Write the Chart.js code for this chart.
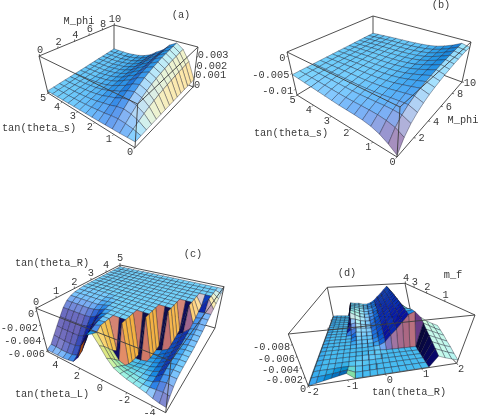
<!DOCTYPE html>
<html>
<head>
<meta charset="utf-8">
<script src="https://cdn.jsdelivr.net/npm/chart.js@4"></script>
<style>
body { margin: 0; background: #fff; }
#wrap { position: relative; width: 480px; height: 415px; overflow: hidden; }
canvas { position: absolute; }
</style>
</head>
<body>
<div id="wrap">
<canvas id="pa" width="240" height="208" style="left:0;top:0"></canvas>
<canvas id="pb" width="240" height="208" style="left:240px;top:0"></canvas>
<canvas id="pc" width="240" height="207" style="left:0;top:208px"></canvas>
<canvas id="pd" width="240" height="207" style="left:240px;top:208px"></canvas>
</div>
<script>
var n = null;

// panel a: rows tan(theta_s) 0..5, columns M_phi 0..10, in 1e-5
var zGridA = [
[60,63,66,69,71,73,74,75,76,77,78,79,79,80,80],
[55,83,110,135,155,172,186,197,207,214,222,227,231,236,240],
[50,94,137,175,207,233,256,273,288,299,311,320,326,334,340],
[48,99,149,193,230,260,287,307,324,338,351,361,368,378,385],
[45,90,135,174,207,234,258,276,291,303,315,324,330,339,345],
[42,76,110,140,165,186,204,218,229,238,247,254,259,265,270],
[40,67,94,117,137,153,168,179,188,195,202,207,211,216,220],
[38,56,75,90,104,115,125,132,138,143,148,151,154,158,160],
[36,49,61,72,81,89,96,101,105,108,112,114,116,118,120],
[34,42,51,58,64,69,74,77,80,82,84,86,87,89,90],
[32,38,43,48,53,56,59,61,63,65,66,67,68,69,70],
[30,33,36,39,41,43,44,45,46,47,48,49,49,50,50],
[28,30,32,33,34,36,37,37,38,38,39,39,39,40,40],
[26,27,27,28,28,29,29,29,29,29,30,30,30,30,30],
[25,24,24,23,22,22,21,21,21,21,21,20,20,20,20]
];

// panel b: rows tan(theta_s) 0..5, columns M_phi 0..10, in 1e-5
var zGridB = [
[-1150,-839,-639,-506,-406,-329,-273,-229,-184,-151,-118,-95,-73,-57,-60],
[-980,-708,-534,-417,-330,-262,-214,-175,-136,-107,-78,-59,-39,-25,-5],
[-850,-648,-519,-432,-368,-317,-281,-252,-224,-202,-180,-166,-152,-141,-130],
[-770,-619,-522,-457,-408,-370,-343,-322,-300,-284,-268,-257,-246,-238,-230],
[-730,-612,-537,-486,-449,-419,-398,-381,-365,-352,-339,-331,-323,-316,-310],
[-710,-612,-549,-507,-476,-451,-434,-420,-406,-395,-385,-378,-371,-365,-360],
[-700,-615,-560,-523,-496,-474,-459,-447,-435,-426,-416,-410,-404,-400,-395],
[-690,-614,-566,-533,-509,-490,-477,-466,-455,-447,-439,-434,-428,-424,-420],
[-670,-606,-564,-537,-516,-500,-488,-479,-470,-463,-456,-452,-447,-443,-440],
[-650,-595,-560,-537,-519,-506,-496,-488,-480,-475,-469,-465,-461,-458,-455],
[-630,-585,-556,-537,-523,-512,-504,-497,-491,-486,-481,-478,-475,-472,-470],
[-610,-576,-555,-540,-530,-521,-515,-510,-506,-502,-498,-496,-494,-492,-490],
[-590,-568,-553,-544,-536,-531,-527,-524,-520,-518,-516,-514,-512,-511,-510],
[-570,-559,-552,-547,-543,-540,-538,-537,-535,-534,-533,-532,-531,-531,-530],
[-550,-550,-550,-550,-550,-550,-550,-550,-550,-550,-550,-550,-550,-550,-550]
];

// panel c: rows tan(theta_L) 5..-5, columns tan(theta_R) 0..5, in 1e-4
var zGridC = [
[-59,-55,-45,-35,-25,-15,-8,-4,-2,-1,0,0,0,0,0,0,0,0,0,0,0],
[-59,-55,-46,-36,-25,-15,-8,-4,-2,-1,0,0,0,0,0,0,0,0,0,0,0],
[-59,-56,-47,-36,-25,-15,-8,-4,-2,-1,0,0,0,0,0,0,0,0,0,0,0],
[-59,-56,-47,-36,-25,-15,-8,-4,-2,-1,0,0,0,0,0,0,0,0,0,0,0],
[-58,-55,-46,-36,-25,-15,-8,-4,-2,-1,0,0,0,0,0,0,0,0,0,0,0],
[-56,-52,-43,-33,-23,-14,-7,-4,-2,-1,0,0,0,0,0,0,0,0,0,0,0],
[-46,-42,-34,-25,-17,-10,-5,-2,-1,0,0,0,0,0,0,0,0,0,0,0,0],
[-24,-20,-14,-9,-5,-3,-1,0,0,0,0,0,0,0,0,0,0,0,0,0,0],
[-7,-6,-3,-1,0,0,0,0,0,0,0,0,0,0,0,0,0,0,0,0,0],
[-2,-5,0,0,0,0,0,0,0,0,0,0,0,0,0,0,0,0,0,0,0],
[-14,-20,-28,-36,-42,0,0,0,0,0,0,0,0,0,0,0,0,0,0,0,0],
[-27,-33,-40,-47,0,0,0,0,0,0,0,0,0,0,0,0,0,0,0,0,0],
[-36,-40,-45,-50,-54,-56,-57,-57,0,0,0,0,0,0,0,0,0,0,0,0,0],
[-40,-43,-47,-50,-53,-55,-56,0,0,0,0,0,0,0,0,0,0,0,0,0,0],
[-43,-45,-48,-50,-52,-53,-54,-55,-55,-54,-53,0,0,0,0,0,0,0,0,0,0],
[-45,-47,-49,-50,-51,-52,-52,-52,-52,-51,0,0,0,0,0,0,0,0,0,0,0],
[-47,-48,-49,-49,-49,-49,-49,-48,-47,-46,-45,-43,-41,-39,0,0,0,0,0,0,0],
[-49,-48,-47,-46,-45,-44,-43,-42,-41,-40,-38,-36,-34,0,0,0,0,0,0,0,0],
[-52,-47,-42,-39,-37,-36,-35,-34,-33,-32,-30,-28,-26,-23,-20,-16,-12,0,0,0,0],
[-54,-46,-40,-37,-35,-34,-33,-32,-31,-30,-28,-26,-24,-21,-18,-15,0,0,0,0,0],
[-55,-47,-41,-37,-35,-34,-33,-32,-31,-30,-28,-26,-24,-21,-18,-15,-12,-9,-6,-3,0]
];

// panel d: rows tan(theta_R) -2..2, columns m_f 0..4, depth below zero in 1e-4
var zGridD = [
[0,2,2,2,2,2,2,2,2,2,2,2,2,2,2,2,2,2,2,2,2],
[3,3,3,3,3,3,3,3,3,3,3,3,3,3,3,3,3,3,3,3,3],
[6,4,3,3,3,3,3,3,3,3,3,3,3,3,3,3,3,3,3,3,3],
[9,5,3,3,3,3,3,3,3,3,3,3,3,3,3,3,3,3,3,3,3],
[12,7,4,3,3,3,3,3,3,3,3,3,3,3,3,3,3,3,3,3,3],
[15,9,4,3,3,3,3,3,3,3,5,13,23,32,44,46,46,46,46,46,46],
[1,1,2,3,3,3,3,4,6,9,13,18,25,30,37,41,43,44,44,44,44],
[1,1,1,2,3,3,3,4,6,8,12,16,21,25,31,35,38,41,42,43,44],
[1,1,1,1,3,3,3,4,6,8,11,15,19,23,28,32,35,38,39,40,41],
[1,1,1,1,2,3,4,4,6,8,11,15,19,23,28,32,35,38,39,40,41],
[1,1,1,1,1,2,5,8,11,14,18,22,25,29,32,35,38,41,42,44,45],
[1,1,1,1,1,1,12,16,19,24,27,31,34,36,39,42,44,46,48,50,52],
[1,1,1,1,1,1,27,31,34,38,40,43,46,48,50,53,55,57,59,60,62],
[1,1,1,1,1,1,40,44,46,50,52,55,58,60,62,64,66,67,69,70,71],
[1,1,1,1,1,1,55,58,60,63,65,68,70,71,73,75,76,77,79,80,81],
[1,1,1,1,1,1,70,72,74,76,77,79,81,82,84,85,86,87,88,89,90],
[1,1,1,1,1,1,75,74,72,68,65,60,55,52,50,49,48,48,47,46,45],
[24,30,36,42,48,55,62,n,n,n,n,n,n,n,n,n,n,n,n,n,n],
[18,24,30,36,42,48,53,n,n,n,n,n,n,n,n,n,n,n,n,n,n],
[13,18,24,30,36,41,46,n,n,n,n,n,n,n,n,n,n,n,n,n,n],
[8,13,19,24,30,35,40,n,n,n,n,n,n,n,n,n,n,n,n,n,n]
];

var tanTicks = [0, 1, 2, 3, 4, 5];
var mPhiTicksA = [0, 2, 4, 6, 8, 10];
var mPhiTicksB = [2, 4, 6, 8, 10];
var zTicksA = [0, 0.001, 0.002, 0.003];
var zTicksB = [0, -0.005, -0.01];
var zTicksC = [0, -0.002, -0.004, -0.006];
var zTicksD = [0, -0.002, -0.004, -0.006, -0.008];
var tanLTicks = [4, 2, 0, -2, -4];
var tanRTicksD = [-2, -1, 0, 1, 2];
var mfTicks = [4, 3, 2, 1];

// box corners on the page, order: a + 2*b + 4*c (a = row axis, b = column axis, c = height)
var panels = [
  { id: 'pa', ox: 0, oy: 0, h: 208, grid: zGridA, unit: 1e-5, zBot: 0, zTop: 0.004, dist: 2.2, relief: 0.3, lift: 0.12,
    corners: [[135,147.7],[48,93],[193,87],[114,50],[137.7,104],[39,56],[198,47],[114,25]],
    axes: [
      { ticks: tanTicks, pos: function (v) { return [v / 5, 0, 0]; }, dx: -5, dy: 5, align: 'center' },
      { ticks: mPhiTicksA, pos: function (v) { return [1, v / 10, 1]; }, dx: 1, dy: -6, align: 'center' },
      { ticks: zTicksA, pos: function (v) { return [0, 1, v / 0.004]; }, dx: 1, dy: -2, align: 'left' }
    ],
    titles: [['M_phi', 79, 21], ['tan(theta_s)', 39, 128], ['(a)', 181, 15]] },
  { id: 'pb', ox: 240, oy: 0, h: 208, grid: zGridB, unit: 1e-5, zBot: -0.012, zTop: 0.001, dist: 2.2, relief: 0.4, lift: 0.1,
    corners: [[397,157],[297,95],[462,82],[373,49],[400,107],[287,52],[471,42],[373,16]],
    axes: [
      { ticks: tanTicks, pos: function (v) { return [v / 5, 0, 0]; }, dx: -4.5, dy: 5, align: 'center' },
      { ticks: mPhiTicksB, pos: function (v) { return [0, v / 10, 0]; }, dx: 8, dy: 1, align: 'center' },
      { ticks: zTicksB, pos: function (v) { return [1, 0, (v + 0.012) / 0.013]; }, dx: -2.5, dy: 2.5, align: 'right' }
    ],
    titles: [['M_phi', 463, 120], ['tan(theta_s)', 291, 133], ['(b)', 441, 5]] },
  { id: 'pc', ox: 0, oy: 208, h: 207, grid: zGridC, unit: 1e-4, zBot: -0.0062, zTop: 0.0003, dist: 3, relief: 0.4, lift: 0.06,
    corners: [[47.7,351.7],[165.7,412.7],[120,300],[215,328],[36,308.3],[171,361],[120,265],[224,286.7]],
    axes: [
      { ticks: tanLTicks, pos: function (v) { return [(5 - v) / 10, 0, 0]; }, dx: -2.7, dy: 8, align: 'center' },
      { ticks: tanTicks, pos: function (v) { return [0, v / 5, 1]; }, dx: 0, dy: -6.5, align: 'center' },
      { ticks: zTicksC, pos: function (v) { return [0, 0, (v + 0.0062) / 0.0065]; }, dx: -2.5, dy: 3.5, align: 'right' }
    ],
    titles: [['tan(theta_R)', 52, 263.5], ['tan(theta_L)', 52, 394], ['(c)', 193, 254]] },
  { id: 'pd', ox: 240, oy: 208, h: 207, grid: zGridD, unit: 1e-4, zBot: 0, zTop: 0.0095, dist: 1.2, relief: 0.4, lift: 0.03,
    corners: [[308.3,386],[456.7,363.3],[333.3,316.7],[411.7,316.7],[288.3,334],[475,315],[327.3,287.3],[405,283.3]],
    axes: [
      { ticks: tanRTicksD, pos: function (v) { return [(v + 2) / 4, 0, 0]; }, dx: 4.5, dy: 6, align: 'center' },
      { ticks: mfTicks, pos: function (v) { return [1, v / 4, 1]; }, dx: 1, dy: -5.5, align: 'center' },
      { ticks: zTicksD, pos: function (v) { return [0, 0, -v / 0.0095]; }, dx: -2, dy: 3, align: 'right' }
    ],
    titles: [['m_f', 453, 275], ['tan(theta_R)', 409, 392.7], ['(d)', 347, 273]] }
];

function dot(a, b) { return a[0] * b[0] + a[1] * b[1] + a[2] * b[2]; }
function cross(a, b) { return [a[1] * b[2] - a[2] * b[1], a[2] * b[0] - a[0] * b[2], a[0] * b[1] - a[1] * b[0]]; }
function unit(a) { var l = Math.sqrt(dot(a, a)) || 1; return [a[0] / l, a[1] / l, a[2] / l]; }
function world(a, b, c, relief) { return [a - 0.5, b - 0.5, (c - 0.5) * (relief || 0.4)]; }

// camera axes are read back from how the box edges lie on the page
function setupView(p) {
  var e = [[0, 0], [0, 0], [0, 0]], k, s;
  for (k = 0; k < 8; k++) {
    for (s = 0; s < 3; s++) {
      if (!(k & (1 << s))) {
        e[s][0] += p.corners[k | (1 << s)][0] - p.corners[k][0];
        e[s][1] += p.corners[k | (1 << s)][1] - p.corners[k][1];
      }
    }
  }
  var right = unit([e[0][0], e[1][0], e[2][0] / 0.4]);
  var up = unit([-e[0][1], -e[1][1], -e[2][1] / 0.4]);
  var f = unit(cross(right, up));
  if (f[2] < 0) f = [-f[0], -f[1], -f[2]];
  var up2 = unit(cross(f, right));
  if (dot(up2, up) < 0) up2 = [-up2[0], -up2[1], -up2[2]];
  p.right = right; p.up = up2; p.front = f;
  // depth at each corner, so that far parts of the box foreshorten
  p.weights = [];
  for (k = 0; k < 8; k++) {
    p.weights.push(p.dist - dot(f, world(k & 1, (k >> 1) & 1, (k >> 2) & 1)));
  }
}

function project(p, a, b, c) {
  var x = 0, y = 0, t = 0, k;
  for (k = 0; k < 8; k++) {
    var m = (k & 1 ? a : 1 - a) * (k & 2 ? b : 1 - b) * (k & 4 ? c : 1 - c) * p.weights[k];
    x += m * p.corners[k][0];
    y += m * p.corners[k][1];
    t += m;
  }
  return { x: x / t, y: y / t };
}

// three coloured lights in view space, with a small lift for the washed look of the print
function shade(p, q) {
  var d1 = [q[2][0] - q[0][0], q[2][1] - q[0][1], q[2][2] - q[0][2]];
  var d2 = [q[3][0] - q[1][0], q[3][1] - q[1][1], q[3][2] - q[1][2]];
  var nn = unit(cross(d1, d2));
  if (dot(nn, p.front) < 0) nn = [-nn[0], -nn[1], -nn[2]];
  var vx = dot(nn, p.right), vy = dot(nn, p.up), vz = dot(nn, p.front);
  var r = Math.min(1, Math.max(0, (vx + vz) / Math.SQRT2));
  var g = Math.min(1, Math.max(0, (vx + vy + vz) / Math.sqrt(3)));
  var b = Math.min(1, Math.max(0, (vy + vz) / Math.SQRT2));
  function lift(v) { return Math.round((v * (1 - p.lift) + p.lift) * 255); }
  return 'rgb(' + lift(r) + ',' + lift(g) + ',' + lift(b) + ')';
}

function lineSet(pts, width, color) {
  return { data: pts, showLine: true, fill: false, borderColor: color, borderWidth: width, pointRadius: 0, tension: 0 };
}

function buildDatasets(p) {
  var sets = [], k, s;
  var far = 0;
  for (k = 1; k < 8; k++) {
    if (dot(p.front, world(k & 1, (k >> 1) & 1, (k >> 2) & 1)) < dot(p.front, world(far & 1, (far >> 1) & 1, (far >> 2) & 1))) far = k;
  }
  // far edges go under the surface, the others over it
  var edgeBack = [], edgeFront = [];
  for (k = 0; k < 8; k++) {
    for (s = 0; s < 3; s++) {
      if (!(k & (1 << s))) {
        var k2 = k | (1 << s);
        var seg = lineSet([{ x: p.corners[k][0], y: p.corners[k][1] }, { x: p.corners[k2][0], y: p.corners[k2][1] }], 0.9, '#3c3c3c');
        if (k === far || k2 === far) edgeBack.push(seg); else edgeFront.push(seg);
      }
    }
  }
  sets = sets.concat(edgeBack);

  var rows = p.grid.length, cols = p.grid[0].length;
  var farA = far & 1, farB = (far >> 1) & 1;
  function height(i, j) {
    var z = p.grid[i][j];
    if (z === null) return null;
    return (z * p.unit - p.zBot) / (p.zTop - p.zBot);
  }
  for (var ii = 0; ii < rows - 1; ii++) {
    var i = farA ? rows - 2 - ii : ii;
    for (var jj = 0; jj < cols - 1; jj++) {
      var j = farB ? cols - 2 - jj : jj;
      var c00 = height(i, j), c10 = height(i + 1, j), c11 = height(i + 1, j + 1), c01 = height(i, j + 1);
      if (c00 === null || c10 === null || c11 === null || c01 === null) continue;
      var a0 = i / (rows - 1), a1 = (i + 1) / (rows - 1), b0 = j / (cols - 1), b1 = (j + 1) / (cols - 1);
      var color = shade(p, [world(a0, b0, c00, p.relief), world(a1, b0, c10, p.relief), world(a1, b1, c11, p.relief), world(a0, b1, c01, p.relief)]);
      sets.push({
        data: [project(p, a0, b0, c00), project(p, a1, b0, c10), project(p, a1, b1, c11), project(p, a0, b1, c01), project(p, a0, b0, c00)],
        showLine: true, fill: 'shape', backgroundColor: color,
        borderColor: 'rgba(15,15,35,0.58)', borderWidth: 0.6, pointRadius: 0, tension: 0
      });
    }
  }
  sets = sets.concat(edgeFront);

  p.axes.forEach(function (ax) {
    var l = Math.sqrt(ax.dx * ax.dx + ax.dy * ax.dy);
    ax.ticks.forEach(function (v) {
      var u = ax.pos(v);
      var q = project(p, u[0], u[1], u[2]);
      sets.push(lineSet([q, { x: q.x + ax.dx / l * 2, y: q.y + ax.dy / l * 2 }], 0.7, '#3c3c3c'));
    });
  });
  // chart.js paints the first dataset last
  return sets.reverse();
}

var textPlugin = {
  id: 'panelText',
  afterDraw: function (chart, args, opts) {
    var p = opts.panel, ctx = chart.ctx, sx = chart.scales.x, sy = chart.scales.y;
    ctx.save();
    ctx.font = '10.3px "Liberation Mono", monospace';
    ctx.fillStyle = '#3a3a3a';
    ctx.textBaseline = 'middle';
    p.axes.forEach(function (ax) {
      ctx.textAlign = ax.align;
      ax.ticks.forEach(function (v) {
        var u = ax.pos(v);
        var q = project(p, u[0], u[1], u[2]);
        ctx.fillText(String(v), sx.getPixelForValue(q.x + ax.dx), sy.getPixelForValue(q.y + ax.dy));
      });
    });
    ctx.textAlign = 'center';
    p.titles.forEach(function (t) {
      ctx.fillText(t[0], sx.getPixelForValue(t[1]), sy.getPixelForValue(t[2]));
    });
    ctx.restore();
  }
};

panels.forEach(function (p) {
  setupView(p);
  new Chart(document.getElementById(p.id).getContext('2d'), {
    type: 'scatter',
    data: { datasets: buildDatasets(p) },
    options: {
      responsive: false,
      animation: false,
      events: [],
      layout: { padding: 0 },
      plugins: { legend: { display: false }, tooltip: { enabled: false }, panelText: { panel: p } },
      scales: {
        x: { type: 'linear', display: false, min: p.ox, max: p.ox + 240 },
        y: { type: 'linear', display: false, min: p.oy, max: p.oy + p.h, reverse: true }
      }
    },
    plugins: [textPlugin]
  });
});
</script>
</body>
</html>
